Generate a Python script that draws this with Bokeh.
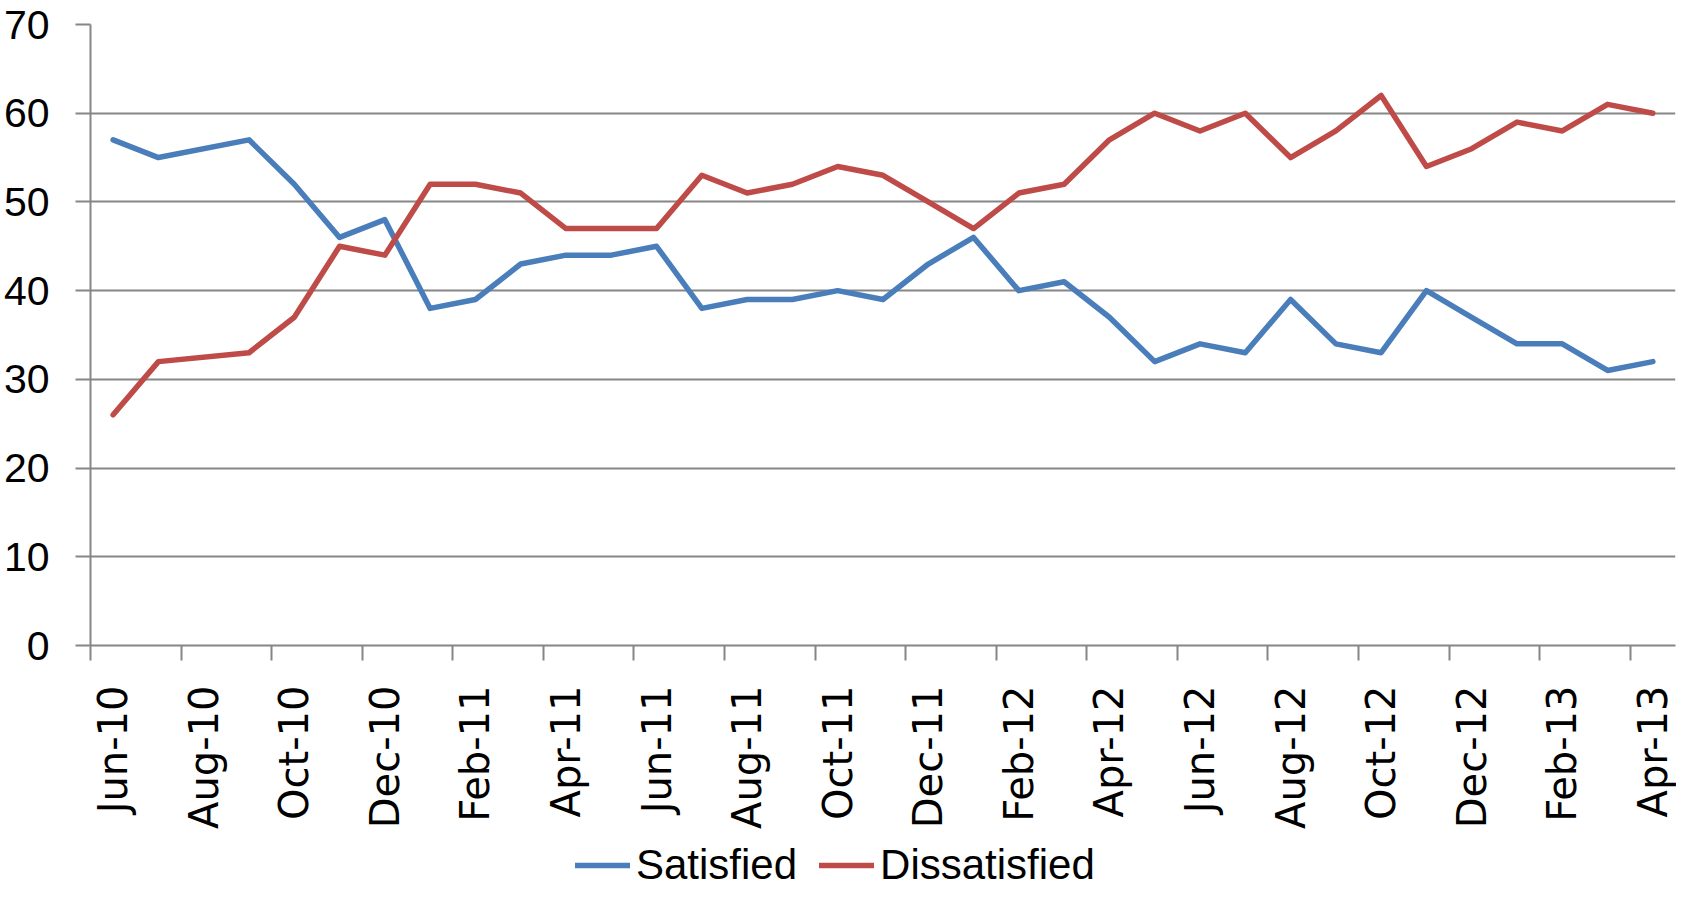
import math
from bokeh.plotting import figure
from bokeh.layouts import column
from bokeh.models import FixedTicker, Range1d, Legend, LegendItem
from bokeh.embed import file_html
from bokeh.resources import INLINE

# ---- data ----
months = ["2010-06", "2010-07", "2010-09", "2010-10", "2010-11", "2010-12",
          "2011-01", "2011-02", "2011-03", "2011-04", "2011-05", "2011-06",
          "2011-07", "2011-08", "2011-09", "2011-10", "2011-11", "2011-12",
          "2012-01", "2012-02", "2012-03", "2012-04", "2012-05", "2012-06",
          "2012-07", "2012-08", "2012-09", "2012-10", "2012-11", "2012-12",
          "2013-01", "2013-02", "2013-03", "2013-04"]
satisfied = [57, 55, 57, 52, 46, 48, 38, 39, 43, 44, 44, 45, 38, 39, 39, 40, 39, 43,
             46, 40, 41, 37, 32, 34, 33, 39, 34, 33, 40, 37, 34, 34, 31, 32]
dissatisfied = [26, 32, 33, 37, 45, 44, 52, 52, 51, 47, 47, 47, 53, 51, 52, 54, 53, 50,
                47, 51, 52, 57, 60, 58, 60, 55, 58, 62, 54, 56, 59, 58, 61, 60]
tick_labels = ["Jun-10", "Aug-10", "Oct-10", "Dec-10", "Feb-11", "Apr-11", "Jun-11",
               "Aug-11", "Oct-11", "Dec-11", "Feb-12", "Apr-12", "Jun-12", "Aug-12",
               "Oct-12", "Dec-12", "Feb-13", "Apr-13"]
series_names = ["Satisfied", "Dissatisfied"]
y_ticks = [0, 10, 20, 30, 40, 50, 60, 70]
start_year, start_month = 2010, 6
n_months = 35  # Jun-10 .. Apr-13 month slots


def month_index(s):
    y, m = map(int, s.split("-"))
    return (y - start_year) * 12 + (m - start_month)


xs = [month_index(s) + 0.5 for s in months]  # points at the middle of each month slot
label_pos = [2 * i + 0.5 for i in range(len(tick_labels))]
slot_edges = [2 * i for i in range(len(tick_labels))]

GRID = "#868686"
BLUE = "#4A7EBB"
RED = "#BE4B48"
NUM_FONT = "Liberation Sans"
LW = 5.5

p = figure(width=1676, height=832,
           x_range=Range1d(0, n_months), y_range=Range1d(0, 70),
           output_backend="svg", toolbar_location=None,
           min_border_left=88, min_border_top=24, min_border_right=1,
           min_border_bottom=187, background_fill_color="white",
           border_fill_color="white")
p.outline_line_color = None

p.line(xs, satisfied, line_color=BLUE, line_width=LW,
       line_join="round", line_cap="round")
p.line(xs, dissatisfied, line_color=RED, line_width=LW,
       line_join="round", line_cap="round")

# x axis
xa = p.xaxis[0]
xa.ticker = FixedTicker(ticks=label_pos, minor_ticks=slot_edges)
xa.major_label_overrides = {pos: lab for pos, lab in zip(label_pos, tick_labels)}
xa.major_label_orientation = math.pi / 2
xa.major_label_text_font = "DejaVu Sans"
xa.major_label_text_font_size = "40px"
xa.major_label_text_color = "black"
xa.major_label_standoff = 25
xa.major_tick_line_color = None
xa.major_tick_out = 15
xa.major_tick_in = 0
xa.minor_tick_line_color = GRID
xa.minor_tick_line_width = 2
xa.minor_tick_out = 15
xa.minor_tick_in = 0
xa.axis_line_color = GRID
xa.axis_line_width = 2

# y axis
ya = p.yaxis[0]
ya.ticker = FixedTicker(ticks=y_ticks)
ya.major_label_text_font = NUM_FONT
ya.major_label_text_font_size = "41px"
ya.major_label_text_color = "black"
ya.major_label_standoff = 26
ya.major_tick_out = 15
ya.major_tick_in = 0
ya.major_tick_line_color = GRID
ya.major_tick_line_width = 2
ya.minor_tick_line_color = None
ya.axis_line_color = GRID
ya.axis_line_width = 2

p.xgrid.grid_line_color = None
p.ygrid.grid_line_color = GRID
p.ygrid.grid_line_width = 2

# ---- legend strip under the chart (series drawn out of view; only the key shows) ----
leg = figure(width=1676, height=57, x_range=Range1d(0, 1), y_range=Range1d(0, 1),
             output_backend="svg", toolbar_location=None,
             x_axis_location=None, y_axis_location=None,
             min_border=0, min_border_left=0, min_border_right=0,
             min_border_top=0, min_border_bottom=0,
             background_fill_color="white", border_fill_color="white")
leg.outline_line_color = None
leg.xgrid.visible = False
leg.ygrid.visible = False
s1 = leg.line(xs, satisfied, line_color=BLUE, line_width=LW, line_cap="round")
s2 = leg.line(xs, dissatisfied, line_color=RED, line_width=LW, line_cap="round")

legend = Legend(items=[LegendItem(label=series_names[0], renderers=[s1]),
                       LegendItem(label=series_names[1], renderers=[s2])],
                location=(485, 0), orientation="horizontal",
                glyph_width=55, glyph_height=40, label_standoff=6, spacing=22,
                padding=0, margin=0, border_line_color=None,
                background_fill_alpha=0,
                label_text_font=NUM_FONT, label_text_font_size="42px",
                label_text_color="black")
leg.add_layout(legend, "center")

layout = column(p, leg, spacing=0)
open("out.html", "w").write(file_html(layout, INLINE))
